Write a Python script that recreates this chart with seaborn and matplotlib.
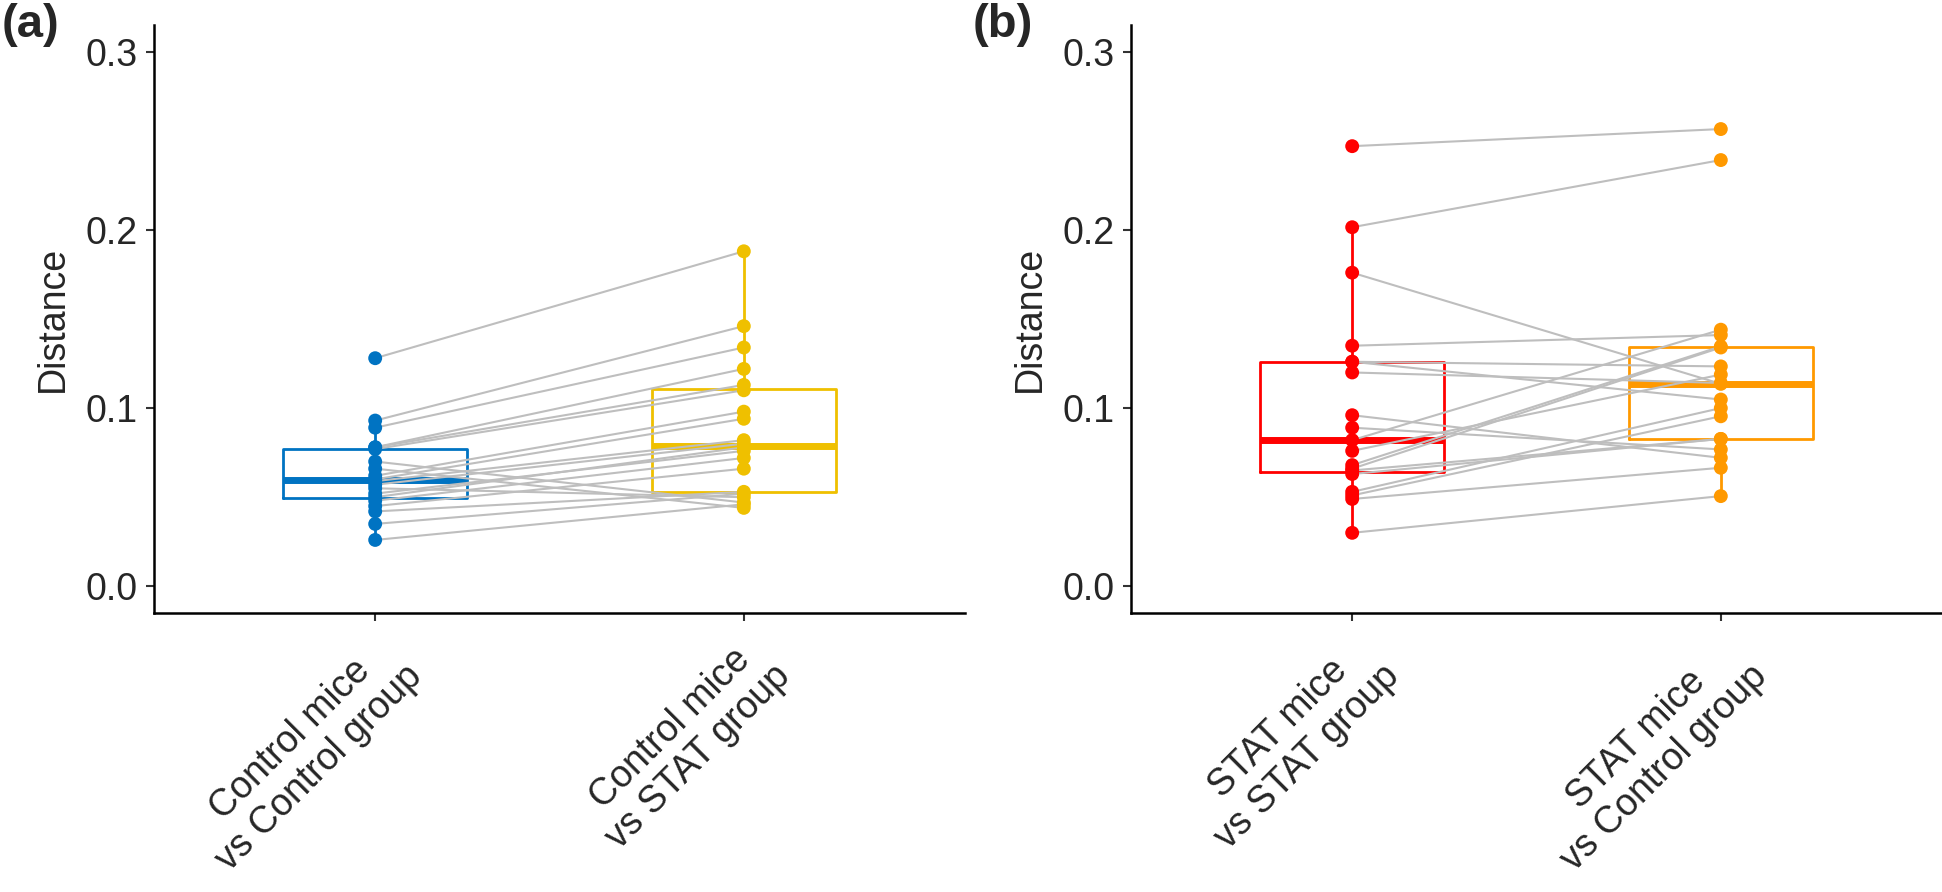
import pandas as pd
import numpy as np
import matplotlib.pyplot as plt
import seaborn as sns

# panel (a): control mice, paired distances
cats_a = ['Control mice\nvs Control group', 'Control mice\nvs STAT group']
ctrl_vs_ctrl = [0.128, 0.093, 0.089, 0.078, 0.078, 0.077, 0.070, 0.066, 0.062, 0.060,
                0.059, 0.057, 0.055, 0.052, 0.050, 0.048, 0.045, 0.042, 0.035, 0.026]
ctrl_vs_stat = [0.188, 0.146, 0.134, 0.122, 0.113, 0.110, 0.047, 0.044, 0.098, 0.094,
                0.082, 0.080, 0.050, 0.076, 0.078, 0.072, 0.066, 0.053, 0.052, 0.046]
colors_a = ['#0073C2', '#EFC000']

# panel (b): STAT mice, paired distances
cats_b = ['STAT mice\nvs STAT group', 'STAT mice\nvs Control group']
stat_vs_stat = [0.247, 0.2015, 0.176, 0.135, 0.126, 0.126, 0.120, 0.096, 0.089, 0.082,
                0.076, 0.068, 0.066, 0.065, 0.063, 0.053, 0.051, 0.049, 0.030]
stat_vs_ctrl = [0.2566, 0.2392, 0.1136, 0.141, 0.1048, 0.1234, 0.1141, 0.0721, 0.0768, 0.144,
                0.1188, 0.1346, 0.134, 0.0827, 0.0827, 0.100, 0.0954, 0.0665, 0.0506]
colors_b = ['#FF0000', '#FF9900']


def make_long(first, second, cats):
    n = len(first)
    df = pd.DataFrame({
        'subject': list(range(n)) * 2,
        'comparison': [cats[0]] * n + [cats[1]] * n,
        'pos': [0] * n + [1] * n,
        'distance': list(first) + list(second),
    })
    return df


def draw_panel(ax, df, cats, colors):
    pal = dict(zip(cats, colors))
    sns.boxplot(data=df, x='comparison', y='distance', hue='comparison', order=cats,
                hue_order=cats, palette=pal, fill=False, width=0.5, linewidth=2.0,
                showfliers=False, showcaps=False, whis=1.5, legend=False,
                medianprops={'linewidth': 5}, ax=ax)
    sns.lineplot(data=df, x='pos', y='distance', units='subject', estimator=None,
                 color='#BEBEBE', linewidth=1.5, ax=ax, zorder=3)
    sns.scatterplot(data=df, x='pos', y='distance', hue='comparison', hue_order=cats,
                    palette=pal, s=100, linewidth=0, legend=False, ax=ax, zorder=4)
    ax.set_xlim(-0.6, 1.6)
    ax.set_ylim(-0.015, 0.315)
    ax.set_xticks([0, 1])
    ax.set_xticklabels(cats, rotation=45, ha='right', va='top',
                       rotation_mode='anchor', multialignment='center',
                       linespacing=1.15)
    ax.set_yticks([0, 0.1, 0.2, 0.3])
    ax.set_yticklabels(['0.0', '0.1', '0.2', '0.3'])
    ax.set_xlabel('')
    ax.set_ylabel('Distance', labelpad=10)
    ax.tick_params(axis='both', labelsize=27, width=1.5, length=6, pad=6, color='#333333')
    for s in ['left', 'bottom']:
        ax.spines[s].set_linewidth(1.8)
        ax.spines[s].set_color('black')
    sns.despine(ax=ax)


sns.set_style('ticks')
plt.rcParams['font.family'] = ['Liberation Sans', 'DejaVu Sans']
plt.rcParams['axes.labelsize'] = 27

fig = plt.figure(figsize=(19.42, 8.92), dpi=100)
ax_a = fig.add_axes([154 / 1942, (892 - 613) / 892, 811 / 1942, (613 - 25) / 892])
ax_b = fig.add_axes([1131 / 1942, (892 - 613) / 892, 811 / 1942, (613 - 25) / 892])

draw_panel(ax_a, make_long(ctrl_vs_ctrl, ctrl_vs_stat, cats_a), cats_a, colors_a)
draw_panel(ax_b, make_long(stat_vs_stat, stat_vs_ctrl, cats_b), cats_b, colors_b)

fig.text(0.001, 0.997, '(a)', ha='left', va='top', fontsize=34, fontweight='bold')
fig.text(973 / 1942, 0.997, '(b)', ha='left', va='top', fontsize=34, fontweight='bold')

fig.savefig('out.png', dpi=100)
